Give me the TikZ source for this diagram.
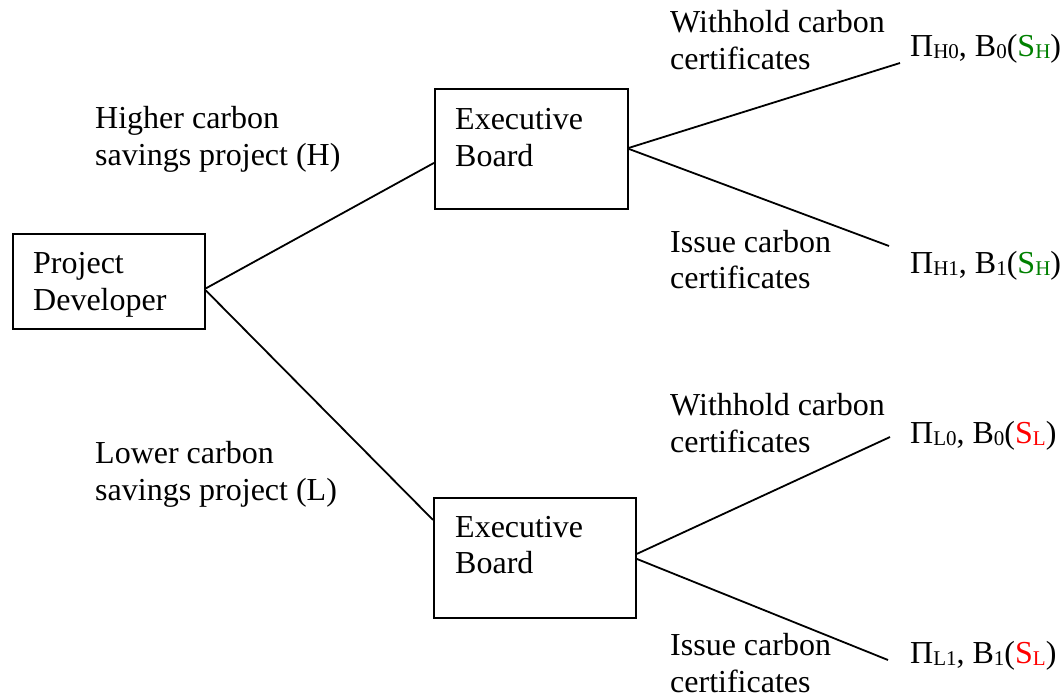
\documentclass[tikz,border=0pt]{standalone}
\usepackage{fontspec}
\setmainfont{Liberation Serif}
\definecolor{sgreen}{RGB}{0,128,0}
\definecolor{sred}{RGB}{255,0,0}
\newcommand{\lowsub}[1]{\raisebox{-2.5pt}{\fontsize{21}{21}\selectfont #1}}
\begin{document}
\begin{tikzpicture}[x=1pt,y=-1pt,
  box/.style={draw, line width=1.8pt, inner sep=0pt, anchor=north west},
  txt/.style={anchor=base west, inner sep=0pt, align=left, font=\fontsize{32}{37}\selectfont},
  edge/.style={line width=1.8pt}]
\useasboundingbox (0,0) rectangle (1063,697);
% boxes
\node[box, minimum width=192pt, minimum height=95pt] (pd) at (12,233) {};
\node[box, minimum width=193pt, minimum height=120pt] (eb1) at (434,88) {};
\node[box, minimum width=202pt, minimum height=120pt] (eb2) at (433,497) {};
% box texts
\node[txt] (pdt1) at (33,273) {Project};
\node[txt] (pdt2) at (33,310) {Developer};
\node[txt] (eb1t1) at (455,129) {Executive};
\node[txt] (eb1t2) at (455,166) {Board};
\node[txt] (eb2t1) at (455,537) {Executive};
\node[txt] (eb2t2) at (455,573) {Board};
% branch labels
\node[txt] (h1) at (95,128) {Higher carbon};
\node[txt] (h2) at (95,165) {savings project (H)};
\node[txt] (l1) at (95,463) {Lower carbon};
\node[txt] (l2) at (95,500) {savings project (L)};
\node[txt] (w1a) at (670,32) {Withhold carbon};
\node[txt] (w1b) at (670,69) {certificates};
\node[txt] (i1a) at (670,252) {Issue carbon};
\node[txt] (i1b) at (670,288) {certificates};
\node[txt] (w2a) at (670,415) {Withhold carbon};
\node[txt] (w2b) at (670,452) {certificates};
\node[txt] (i2a) at (670,655) {Issue carbon};
\node[txt] (i2b) at (670,692) {certificates};
% payoffs
\node[txt] (pH0) at (910,56) {Π\lowsub{H0}, B\lowsub{0}(\textcolor{sgreen}{S\lowsub{H}})};
\node[txt] (pH1) at (910,273) {Π\lowsub{H1}, B\lowsub{1}(\textcolor{sgreen}{S\lowsub{H}})};
\node[txt] (pL0) at (910,443) {Π\lowsub{L0}, B\lowsub{0}(\textcolor{sred}{S\lowsub{L}})};
\node[txt] (pL1) at (910,663) {Π\lowsub{L1}, B\lowsub{1}(\textcolor{sred}{S\lowsub{L}})};
% free ends
\coordinate (eH0) at (900,63);
\coordinate (eH1) at (889,246);
\coordinate (eL0) at (890,437);
\coordinate (eL1) at (888,660);
% connectors
\draw[edge] ([yshift=-7pt]pd.east) -- ([yshift=-14pt]eb1.west);
\draw[edge] ([yshift=-9pt]pd.east) -- ([yshift=38pt]eb2.west);
\draw[edge] ([yshift=1pt]eb1.east) -- (eH0);
\draw[edge] ([yshift=0pt]eb1.east) -- (eH1);
\draw[edge] ([yshift=4pt]eb2.east) -- (eL0);
\draw[edge] ([yshift=-1pt]eb2.east) -- (eL1);
\end{tikzpicture}
\end{document}
